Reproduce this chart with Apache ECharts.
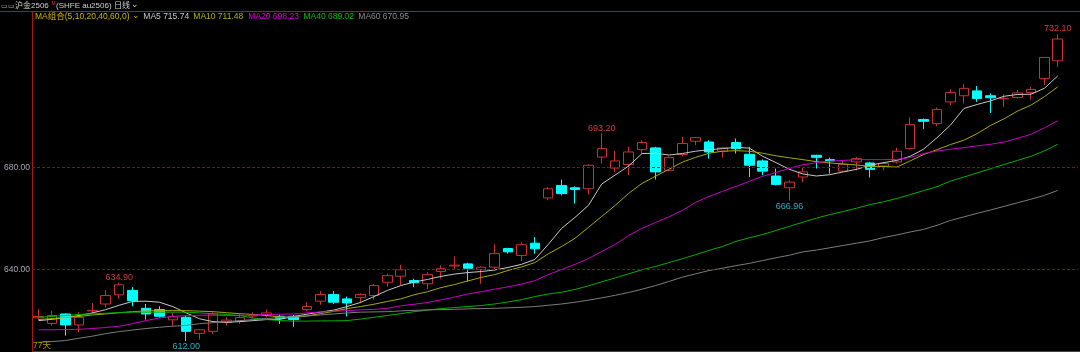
<!DOCTYPE html>
<html><head><meta charset="utf-8">
<script src="https://cdn.jsdelivr.net/npm/echarts@6/dist/echarts.min.js"></script>
<style>html,body{margin:0;padding:0;background:#000;overflow:hidden}#c{width:1080px;height:352px;}</style>
</head><body><div id="c"></div>
<script>
// ---- data ----
const opens = [621.1,618.9,622.6,618.3,623.8,626.5,630.1,631.8,624.8,624.3,
620.3,621.3,615.0,615.8,619.3,619.7,621.8,622.2,621.7,621.7,
624.3,627.6,630.2,628.5,629.1,629.8,635.0,637.4,635.7,634.4,
639.2,641.4,642.2,640.0,640.9,648.2,645.5,650.3,668.0,672.9,
672.0,671.6,684.0,679.7,681.1,686.9,687.6,678.8,685.0,690.2,
689.9,686.3,689.7,685.1,682.5,676.6,672.0,676.2,684.7,683.0,
678.5,682.1,681.7,680.5,682.1,687.3,698.7,697.1,705.6,708.0,
709.9,708.0,706.8,707.3,709.3,714.8,721.7];
const closes = [621.6,622.0,618.3,621.3,624.0,629.8,634.0,627.8,622.6,621.7,
621.6,615.8,616.4,622.6,620.2,621.2,622.2,623.0,620.9,620.4,
625.5,630.2,627.2,626.9,630.2,633.7,637.6,639.9,634.8,638.0,
640.3,641.7,640.5,640.9,646.2,646.9,649.7,648.1,671.6,669.7,
671.3,680.8,687.3,682.5,686.0,689.7,678.2,683.8,689.3,691.6,
686.0,687.6,687.3,680.8,678.5,673.3,674.2,678.2,683.9,682.5,
681.2,683.4,679.2,681.5,686.3,696.7,698.0,702.6,709.3,710.9,
706.9,707.2,707.0,709.1,710.5,723.0,730.2];
const lows = [620.0,618.0,614.1,615.4,622.6,625.2,628.6,625.6,620.4,621.1,
618.0,612.0,612.6,614.8,618.0,618.7,620.8,621.3,618.7,617.6,
623.6,626.2,626.5,621.6,626.8,628.2,633.3,633.7,633.1,632.4,
636.4,640.3,635.3,634.4,639.6,646.2,643.3,646.2,667.1,669.0,
665.8,669.4,681.5,678.2,676.9,685.4,675.2,678.4,684.3,688.6,
683.4,683.8,685.4,676.2,676.9,672.9,666.96,674.2,679.5,677.5,
678.2,678.8,676.0,678.8,681.5,686.9,694.9,696.1,704.3,705.0,
705.6,701.3,703.6,706.8,706.5,712.2,719.3];
const highs = [624.6,623.9,622.9,623.3,626.9,632.0,634.9,633.1,626.5,625.6,
623.3,622.0,616.6,623.3,621.3,622.6,623.2,624.3,622.2,622.2,
627.2,631.5,631.5,629.4,630.7,634.4,638.3,641.8,636.4,638.9,
641.6,645.1,642.7,641.2,649.8,648.5,650.7,652.7,672.3,675.2,
672.5,681.2,693.2,686.4,688.0,690.6,688.0,684.3,691.9,691.9,
690.6,688.0,691.3,688.0,683.1,679.5,674.9,680.1,684.9,683.8,
682.7,684.0,682.1,682.1,687.6,699.5,699.1,703.4,710.5,712.5,
711.8,708.9,708.6,710.2,711.5,723.2,732.1];

const ma5 = [620.0,620.5,621.1,622.0,623.0,624.3,626.0,627.5,627.6,627.2,
625.5,623.0,620.7,619.6,619.3,619.6,620.0,620.4,620.5,621.6,
622.5,623.3,624.1,625.5,627.1,629.4,631.8,633.7,635.1,636.1,
637.3,638.2,638.8,639.2,639.8,640.8,642.0,643.9,649.8,656.1,
660.4,665.1,673.5,677.0,680.5,685.4,685.5,684.8,685.4,686.3,
686.9,687.3,687.8,687.5,684.3,681.8,679.2,677.4,676.6,677.1,
678.2,679.2,680.8,681.8,682.7,684.3,687.1,691.6,696.5,703.0,
704.6,706.0,707.8,708.5,708.6,710.9,715.74];
const ma10 = [620.4,620.8,621.2,621.6,622.2,622.6,623.1,623.5,623.8,623.9,
623.9,623.9,623.7,623.5,623.1,622.7,622.4,622.0,621.4,621.2,
621.8,622.7,623.6,624.7,625.5,626.4,627.5,628.5,630.1,631.3,
632.9,634.1,635.5,636.9,638.0,639.6,641.0,642.7,646.1,649.0,
652.2,656.5,660.8,665.1,669.8,673.7,676.5,679.2,682.0,683.9,
685.5,686.3,686.5,686.3,685.5,684.5,683.7,683.0,682.2,681.7,
681.3,680.9,680.4,680.3,680.1,682.5,685.0,686.9,688.9,690.6,
693.2,696.4,699.0,702.0,704.3,707.6,711.48];
const ma20 = [616.4,616.4,616.5,616.6,616.9,617.3,617.8,618.8,620.0,621.0,
621.6,622.0,622.1,622.1,622.0,622.0,622.2,622.4,622.5,622.6,
623.0,623.4,623.6,623.9,624.2,624.4,624.8,625.8,626.4,627.1,
628.1,629.2,630.4,631.3,632.3,633.2,634.3,635.6,638.0,640.0,
642.0,644.3,647.1,649.8,653.3,656.1,658.4,660.6,663.1,666.3,
668.6,670.6,672.5,674.5,676.5,678.0,679.6,681.0,681.8,682.4,
682.7,683.0,683.0,683.0,683.1,683.8,685.4,686.4,687.1,687.7,
688.4,689.0,689.9,691.3,692.9,695.4,698.23];
const ma40 = [621.4,621.6,622.0,622.4,622.6,622.9,623.1,623.3,623.3,623.3,
623.3,623.3,623.0,622.7,622.4,622.0,621.0,620.4,620.0,619.8,
619.8,619.9,619.9,620.0,620.6,621.3,622.0,622.7,623.5,624.1,
624.7,625.1,625.5,625.9,626.5,627.3,628.2,629.4,630.4,631.1,
632.2,633.6,635.2,636.7,638.3,639.9,641.2,642.7,644.2,645.8,
647.5,649.0,651.0,652.4,653.7,655.3,656.9,658.5,660.1,661.5,
662.7,664.0,665.4,666.5,667.8,669.3,670.9,672.4,674.6,676.2,
677.8,679.5,681.1,682.7,684.3,686.4,689.02];
const ma60 = [611.5,611.8,612.2,613.1,613.9,614.9,615.7,616.3,616.9,617.4,
617.8,618.1,618.8,619.2,619.6,620.0,620.4,620.8,621.2,621.6,
621.8,622.2,622.6,623.0,623.3,623.4,623.5,623.8,624.0,624.2,
624.3,624.4,624.6,624.7,624.8,625.0,625.2,625.5,626.0,626.5,
627.2,628.0,628.9,629.9,631.0,632.3,633.7,635.3,637.0,638.3,
639.6,640.5,641.5,642.4,643.5,644.6,645.6,646.9,647.6,648.5,
649.4,650.3,651.2,652.5,653.5,654.7,655.7,657.3,659.2,660.6,
662.0,663.3,664.7,666.1,667.5,669.0,670.95];

const days = opens.map((_, i) => 'D' + (i + 1));
const gridTicks = [640, 680];
const highMarks = [6, 42, 76];
const lowMarks = [11, 56];
const maNames = ['MA5', 'MA10', 'MA20', 'MA40', 'MA60'];
const maData = [ma5, ma10, ma20, ma40, ma60];
const maLineColors = ['#c8c8c8', '#a8a800', '#c800c8', '#00b000', '#7c7c7c'];
const maTextColors = ['#c8c8c8', '#b4b400', '#d800d8', '#00c000', '#8c8c8c'];
const maTextX = [143.3, 193.3, 248.3, 303.5, 358.3];

// ---- build ----
const RED = '#c83232', CYAN = '#00ffff';
const ohlc = opens.map((o, i) => [o, closes[i], lows[i], highs[i]]);
const FONT = '"Liberation Sans", Arial, "Noto Sans CJK SC", sans-serif';

const markData = highMarks.map(i => ({
  coord: [days[i], highs[i]], value: highs[i],
  label: { position: 'top', color: '#d03c3c' }
})).concat(lowMarks.map(i => ({
  coord: [days[i], lows[i]], value: lows[i],
  label: { position: 'bottom', color: '#20b4c4' }
})));

const series = [{
  type: 'candlestick',
  data: ohlc,
  barWidth: 10,
  z: 2,
  itemStyle: {
    color: '#000', color0: CYAN,
    borderColor: RED, borderColor0: CYAN, borderColorDoji: RED,
    borderWidth: 1
  },
  markPoint: {
    symbol: 'circle', symbolSize: 0, silent: true, animation: false,
    label: { show: true, distance: 1, fontSize: 9, fontFamily: FONT,
      formatter: p => Number(p.value).toFixed(2) },
    data: markData
  },
  markLine: {
    symbol: ['none', 'none'], silent: true, animation: false,
    label: { show: false },
    lineStyle: { color: '#7e1515', type: [3, 2], width: 1 },
    data: gridTicks.map(v => ({ yAxis: v }))
  }
}].concat(maData.map((d, k) => ({
  type: 'line', name: maNames[k], data: d, symbol: 'none', showSymbol: false,
  z: 3, lineStyle: { width: 1, color: maLineColors[k] }, silent: true
})));

const headerTexts = [
  { type: 'text', style: { x: 1, y: 6, text: '▭▭', fill: '#b0b0b0', font: '7px ' + FONT, verticalAlign: 'middle' } },
  { type: 'text', style: { x: 15, y: 6, text: '沪金2506', fill: '#d0d0d0', font: '8px ' + FONT, verticalAlign: 'middle' } },
  { type: 'text', style: { x: 51.5, y: 3.5, text: 'M', fill: '#e03030', font: '5px ' + FONT, verticalAlign: 'middle' } },
  { type: 'text', style: { x: 56, y: 6, text: '(SHFE au2506)', fill: '#d0d0d0', font: '8px ' + FONT, verticalAlign: 'middle' } },
  { type: 'text', style: { x: 114, y: 6, text: '日线', fill: '#d0d0d0', font: '8px ' + FONT, verticalAlign: 'middle' } },
  { type: 'text', style: { x: 131, y: 5, text: '⌄', fill: '#d0d0d0', font: '9px "DejaVu Sans", sans-serif', verticalAlign: 'middle' } },
  { type: 'text', style: { x: 35, y: 17, text: 'MA组合(5,10,20,40,60,0)', fill: '#d2b400', font: '8.5px ' + FONT, verticalAlign: 'middle' } },
  { type: 'text', style: { x: 132, y: 16, text: '⌄', fill: '#d2b400', font: '9px "DejaVu Sans", sans-serif', verticalAlign: 'middle' } },
  { type: 'text', style: { x: 33, y: 346, text: opens.length + '天', fill: '#b09a00', font: '8.5px ' + FONT, verticalAlign: 'middle' } }
].concat(maNames.map((n, k) => ({
  type: 'text', style: { x: maTextX[k], y: 17,
    text: n + ' ' + maData[k][maData[k].length - 1].toFixed(2),
    fill: maTextColors[k], font: '8.5px ' + FONT, verticalAlign: 'middle' }
})));

const frame = [
  { type: 'line', shape: { x1: 0, y1: 11.5, x2: 1080, y2: 11.5 }, style: { stroke: '#a81818', lineWidth: 1 } },
  { type: 'line', shape: { x1: 32.5, y1: 11.5, x2: 32.5, y2: 352 }, style: { stroke: '#a81818', lineWidth: 1 } },
  { type: 'line', shape: { x1: 32, y1: 351.5, x2: 1080, y2: 351.5 }, style: { stroke: '#a81818', lineWidth: 1 } }
];

const chart = echarts.init(document.getElementById('c'), null, { renderer: 'canvas' });
chart.setOption({
  backgroundColor: '#000',
  animation: false,
  grid: { left: 32, right: 2.2, top: -37.1, bottom: -19.7, containLabel: false, outerBoundsMode: 'none' },
  xAxis: {
    type: 'category', data: days, max: days.length, boundaryGap: true,
    axisLine: { show: false }, axisTick: { show: false }, axisLabel: { show: false }, splitLine: { show: false }
  },
  yAxis: {
    type: 'value', min: 600, max: 760, interval: 40,
    axisLine: { show: false }, axisTick: { show: false }, splitLine: { show: false },
    axisLabel: { margin: 2, color: '#a8a8b4', fontSize: 8.5, fontFamily: FONT,
      formatter: v => gridTicks.indexOf(v) >= 0 ? v.toFixed(2) : '' }
  },
  series: series,
  graphic: frame.concat(headerTexts.map(t => Object.assign({ z: 100, silent: true }, t)))
});
</script>
</body></html>
